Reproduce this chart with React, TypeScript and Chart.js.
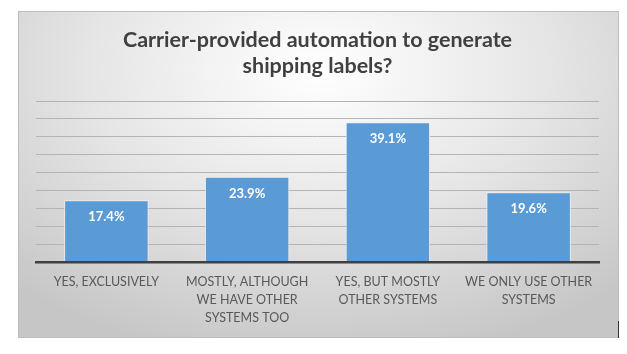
import React, { useEffect, useRef } from "react";
import { Chart, registerables } from "chart.js";

Chart.register(...registerables);

const titleLines = ["Carrier-provided automation to generate", "shipping labels?"];
const categories: string[][] = [
  ["YES, EXCLUSIVELY"],
  ["MOSTLY, ALTHOUGH", "WE HAVE OTHER", "SYSTEMS TOO"],
  ["YES, BUT MOSTLY", "OTHER SYSTEMS"],
  ["WE ONLY USE OTHER", "SYSTEMS"],
];
const values = [17.4, 23.9, 39.1, 19.6];
const axisMax = 45;
const axisStep = 5;

const FONT = "Lato, 'Open Sans', sans-serif";

const labelPlugin = {
  id: "barLabels",
  afterDatasetsDraw(chart: any) {
    const ctx = chart.ctx;
    const meta = chart.getDatasetMeta(0);
    ctx.save();
    ctx.fillStyle = "#ffffff";
    ctx.font = `bold 13px ${FONT}`;
    ctx.textAlign = "center";
    ctx.textBaseline = "middle";
    meta.data.forEach((bar: any, i: number) => {
      ctx.fillText(values[i].toFixed(1) + "%", bar.x, bar.y + 17);
    });
    ctx.restore();
  },
};

export default function App() {
  const ref = useRef<HTMLCanvasElement>(null);
  useEffect(() => {
    if (!ref.current) return;
    const chart = new Chart(ref.current, {
      type: "bar",
      data: {
        labels: categories,
        datasets: [
          {
            data: values,
            backgroundColor: "#5b9bd5",
            borderColor: "rgba(235,242,250,0.9)",
            borderWidth: 1,
            categoryPercentage: 1,
            barPercentage: 0.6,
          },
        ],
      },
      options: {
        animation: false,
        responsive: false,
        maintainAspectRatio: false,
        layout: { padding: { left: 17, right: 19, top: 0, bottom: 0 } },
        plugins: {
          legend: { display: false },
          tooltip: { enabled: false },
          title: {
            display: true,
            text: titleLines,
            color: "#404040",
            font: { family: FONT, size: 21.5, weight: "bold", lineHeight: 1.21 },
            padding: { top: 15, bottom: 22 },
          },
        },
        scales: {
          x: {
            grid: { display: false, drawTicks: false },
            border: { display: true, color: "#404040", width: 2.5, z: 1 },
            ticks: {
              color: "#595959",
              font: { family: FONT, size: 12.5, lineHeight: 1.45 },
              padding: 10,
              maxRotation: 0,
              autoSkip: false,
            },
          },
          y: {
            min: 0,
            max: axisMax,
            grid: { color: "#b4b4b4", lineWidth: 1, drawTicks: false },
            border: { display: false },
            ticks: { display: false, stepSize: axisStep },
          },
        },
      },
      plugins: [labelPlugin],
    });
    return () => chart.destroy();
  }, []);

  return (
    <div style={{ position: "fixed", left: 0, top: 0, width: 627, height: 354 }}>
      <div
        style={{
          position: "absolute",
          left: 18,
          top: 11,
          width: 601,
          height: 327,
          boxSizing: "border-box",
          border: "1px solid #bdbdbd",
          background:
            "radial-gradient(ellipse 75% 90% at 50% 18%, #ffffff 0%, #e6e6e6 50%, #c6c6c6 100%)",
        }}
      >
        <canvas
          ref={ref}
          width={599}
          height={325}
          style={{ display: "block", width: 599, height: 325 }}
        />
      </div>
      <div
        style={{
          position: "absolute",
          left: 618,
          top: 321,
          width: 1,
          height: 17,
          background: "#333333",
        }}
      />
    </div>
  );
}
